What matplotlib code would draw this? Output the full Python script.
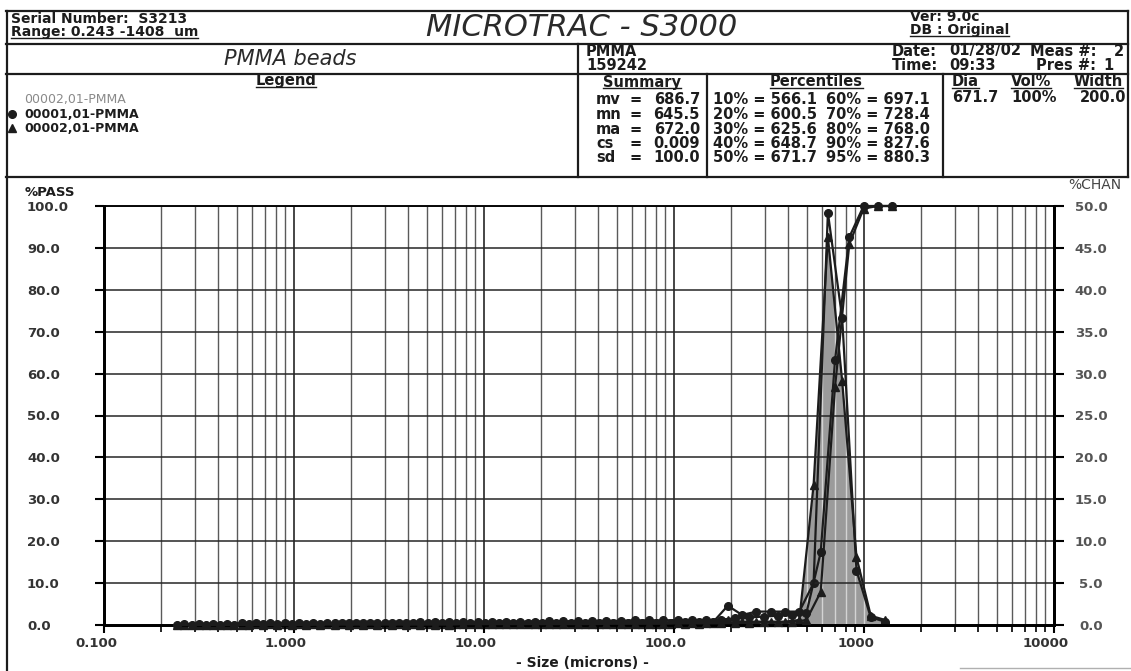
import numpy as np
import matplotlib
matplotlib.use("Agg")
import matplotlib.pyplot as plt
from matplotlib.transforms import ScaledTranslation
from matplotlib.ticker import FixedLocator, NullFormatter

W, H = 1131, 671
FONT = "DejaVu Sans"
INK = "#1c1c1c"

# channel edges in microns (4 channels per octave), smallest first
EDGES = [0.243, 0.289, 0.344, 0.409, 0.486, 0.578, 0.688, 0.818, 0.972,
         1.156, 1.375, 1.635, 1.945, 2.312, 2.750, 3.270, 3.889, 4.625,
         5.500, 6.541, 7.778, 9.250, 11.00, 13.08, 15.56, 18.50, 22.00,
         26.16, 31.11, 37.00, 44.00, 52.33, 62.23, 74.00, 88.00, 104.7,
         124.5, 148.0, 176.0, 209.3, 248.9, 296.0, 352.0, 418.6, 497.8,
         592.0, 704.0, 837.2, 995.6, 1184, 1408]

# %CHAN per channel (50 channels), smallest first
CHAN_01 = [0.1, 0.1, 0.1, 0.1, 0.2, 0.2, 0.2, 0.2, 0.2, 0.2,
           0.2, 0.2, 0.2, 0.2, 0.2, 0.2, 0.2, 0.2, 0.2, 0.2,
           0.2, 0.2, 0.2, 0.2, 0.2, 0.2, 0.2, 0.2, 0.2, 0.2,
           0.2, 0.2, 0.2, 0.2, 0.2, 0.3, 0.3, 0.4, 2.3, 1.2,
           1.6, 1.6, 1.6, 1.6, 5.0, 49.2, 36.6, 6.5, 0.9, 0.4]
CHAN_02 = [0.0, 0.0, 0.0, 0.0, 0.0, 0.1, 0.1, 0.1, 0.1, 0.1,
           0.1, 0.1, 0.1, 0.1, 0.1, 0.1, 0.1, 0.1, 0.1, 0.1,
           0.1, 0.1, 0.1, 0.1, 0.1, 0.1, 0.1, 0.1, 0.1, 0.1,
           0.1, 0.1, 0.1, 0.1, 0.1, 0.1, 0.1, 0.2, 0.6, 0.4,
           0.4, 0.4, 0.4, 0.6, 16.7, 46.3, 29.1, 8.1, 1.1, 0.6]

# %PASS at channel edges (51 edges), smallest first
PASS_01 = [0.0, 0.0, 0.1, 0.1, 0.1, 0.2, 0.2, 0.2, 0.3, 0.3,
           0.3, 0.4, 0.4, 0.4, 0.5, 0.5, 0.5, 0.6, 0.6, 0.6,
           0.7, 0.7, 0.7, 0.8, 0.8, 0.8, 0.9, 0.9, 0.9, 1.0,
           1.0, 1.0, 1.1, 1.1, 1.1, 1.2, 1.2, 1.2, 1.3, 1.6,
           1.8, 2.0, 2.2, 2.4, 2.9, 17.4, 63.2, 92.6, 100.0, 100.0,
           100.0]
PASS_02 = [0.0, 0.0, 0.0, 0.0, 0.0, 0.0, 0.0, 0.0, 0.0, 0.0,
           0.1, 0.1, 0.1, 0.1, 0.1, 0.1, 0.1, 0.1, 0.1, 0.1,
           0.2, 0.2, 0.2, 0.2, 0.2, 0.2, 0.2, 0.2, 0.2, 0.2,
           0.3, 0.3, 0.3, 0.3, 0.3, 0.4, 0.4, 0.4, 0.4, 0.5,
           0.5, 0.6, 0.6, 0.7, 1.2, 7.9, 56.8, 91.0, 99.4, 100.0,
           100.0]

SUMMARY = [("mv", "686.7"), ("mn", "645.5"), ("ma", "672.0"),
           ("cs", "0.009"), ("sd", "100.0")]
PERCENTILES = [("10% = 566.1", "60% = 697.1"), ("20% = 600.5", "70% = 728.4"),
               ("30% = 625.6", "80% = 768.0"), ("40% = 648.7", "90% = 827.6"),
               ("50% = 671.7", "95% = 880.3")]
PEAK_HEAD = ["Dia", "Vol%", "Width"]
PEAK_ROW = ["671.7", "100%", "200.0"]

X_TICKS = [0.1, 1, 10, 100, 1000, 10000]
X_LABELS = ["0.100", "1.000", "10.00", "100.0", "1000", "10000"]
PASS_TICKS = [0, 10, 20, 30, 40, 50, 60, 70, 80, 90, 100]
CHAN_TICKS = [0, 5, 10, 15, 20, 25, 30, 35, 40, 45, 50]


def txt(ax, x, y, s, size=10.5, weight="bold", **kw):
    kw.setdefault("color", INK)
    kw.setdefault("va", "center")
    return ax.text(x, y, s, fontsize=size, fontweight=weight, family=FONT, **kw)


def underline(ax, t, renderer, dy=7):
    bb = t.get_window_extent(renderer)
    y = H - (bb.y0 + bb.y1) / 2 + dy
    ax.plot([bb.x0, bb.x1], [y, y], color=INK, lw=1.0)


def draw_header(fig):
    hdr = fig.add_axes([0, 0, 1, 1], zorder=5)
    hdr.set_xlim(0, W)
    hdr.set_ylim(H, 0)
    hdr.axis("off")
    hdr.patch.set_alpha(0)
    rend = fig.canvas.get_renderer()

    # frame and dividers
    line = dict(color=INK, lw=1.6)
    hdr.plot([6, 1128], [11, 11], **line)
    hdr.plot([6, 1128], [44, 44], **line)
    hdr.plot([6, 1128], [74, 74], **line)
    hdr.plot([6, 1128], [177, 177], **line)
    hdr.plot([7, 7], [11, 671], **line)
    hdr.plot([1128, 1128], [11, 177], **line)
    hdr.plot([578, 578], [44, 177], **line)
    hdr.plot([707, 707], [74, 177], **line)
    hdr.plot([943, 943], [74, 177], **line)
    hdr.plot([960, 1131], [668, 668], color="#b0b0b0", lw=1.0)

    # top row
    txt(hdr, 11, 19, "Serial Number:  S3213", size=10)
    t = txt(hdr, 11, 32, "Range: 0.243 -1408  um", size=10)
    underline(hdr, t, rend, dy=6)
    txt(hdr, 582, 27, "MICROTRAC - S3000", size=22, weight="normal",
        style="italic", ha="center", color="#2a2a2a")
    txt(hdr, 910, 17, "Ver: 9.0c", size=10)
    t = txt(hdr, 910, 30, "DB : Original", size=10)
    underline(hdr, t, rend, dy=6)

    # second row
    txt(hdr, 290, 59, "PMMA beads", size=15, weight="normal", style="italic",
        ha="center", color="#2a2a2a")
    txt(hdr, 586, 51, "PMMA")
    txt(hdr, 586, 65, "159242")
    txt(hdr, 892, 51, "Date:")
    txt(hdr, 949, 51, "01/28/02")
    txt(hdr, 1030, 51, "Meas #:")
    txt(hdr, 1124, 51, "2", ha="right")
    txt(hdr, 892, 65, "Time:")
    txt(hdr, 949, 65, "09:33")
    txt(hdr, 1036, 65, "Pres #:")
    txt(hdr, 1114, 65, "1", ha="right")

    # legend
    t = txt(hdr, 286, 81, "Legend", ha="center")
    underline(hdr, t, rend, dy=6)
    txt(hdr, 24, 100, "00002,01-PMMA", size=9, weight="normal", color="#8a8a8a")
    hdr.plot([12], [114], "o", color=INK, ms=5.5)
    txt(hdr, 24, 114, "00001,01-PMMA", size=9)
    hdr.plot([12], [128], "^", color=INK, ms=5.5)
    txt(hdr, 24, 128, "00002,01-PMMA", size=9)

    # summary
    t = txt(hdr, 642, 82, "Summary", ha="center")
    underline(hdr, t, rend, dy=6)
    for i, (name, val) in enumerate(SUMMARY):
        y = 100 + i * 14.5
        txt(hdr, 596, y, name)
        txt(hdr, 636, y, "=", ha="center")
        txt(hdr, 700, y, val, ha="right")

    # percentiles
    t = txt(hdr, 816, 82, "Percentiles", ha="center")
    underline(hdr, t, rend, dy=6)
    for i, (left, right) in enumerate(PERCENTILES):
        y = 100 + i * 14.5
        txt(hdr, 713, y, left)
        txt(hdr, 826, y, right)

    # peak table
    for xl, head in zip([952, 1011, 1074], PEAK_HEAD):
        t = txt(hdr, xl, 82, head)
        underline(hdr, t, rend, dy=6)
    for xl, val in zip([952, 1011, 1080], PEAK_ROW):
        txt(hdr, xl, 97, val)

    # plot captions
    txt(hdr, 25, 192, "%PASS", size=9.5)
    txt(hdr, 1068, 185, "%CHAN", size=10, weight="normal", color="#444444")
    txt(hdr, 582, 663, "- Size (microns) -", size=10, ha="center")
    return hdr


def draw_plot(fig):
    ax = fig.add_axes([104 / W, (H - 625) / H, 950 / W, 419 / H])
    ax.set_xscale("log")
    ax.set_xlim(0.1, 10000)
    ax.set_ylim(0, 100)
    ax2 = ax.twinx()
    ax2.set_ylim(0, 50)
    ax.set_zorder(ax2.get_zorder() + 1)
    ax.patch.set_visible(False)

    edges = np.array(EDGES)
    centers = np.sqrt(edges[:-1] * edges[1:])

    # grid
    minors = [m * 10.0 ** d for d in range(-1, 4) for m in range(2, 10)]
    for x in minors:
        ax2.axvline(x, color="#5a5a5a", lw=1.0, zorder=0)
    for x in X_TICKS:
        ax2.axvline(x, color="#262626", lw=1.2, zorder=0)
    for y in PASS_TICKS:
        ax.axhline(y, color="#262626", lw=1.1, zorder=0)

    # shaded histogram for 00002
    fill = ax2.fill_between(centers, 0, CHAN_02, color="#9b9b9b", lw=0, zorder=1)
    inside = [x for x in minors + X_TICKS if 400 < x < 1300]
    lc = ax2.vlines(inside, 0, 50, colors="#d4d4d4", lw=1.0, zorder=1.5)
    lc.set_clip_path(fill.get_paths()[0], ax2.transData)

    style = dict(color=INK, lw=1.6, ms=5.5, clip_on=False)
    ax2.plot(centers, CHAN_02, marker="^", zorder=3, **style)
    ax2.plot(centers, CHAN_01, marker="o", zorder=3, **style)
    ax.plot(edges, PASS_02, marker="^", zorder=3, **style)
    ax.plot(edges, PASS_01, marker="o", zorder=3, **style)

    # spines and ticks
    for a in (ax, ax2):
        for side in ["left", "right", "bottom"]:
            a.spines[side].set_linewidth(2.0)
        a.spines["top"].set_linewidth(1.1)

    ax.xaxis.set_major_locator(FixedLocator(X_TICKS))
    ax.xaxis.set_minor_locator(FixedLocator(minors))
    ax.xaxis.set_minor_formatter(NullFormatter())
    ax.set_xticklabels(X_LABELS)
    ax.tick_params(axis="x", which="major", direction="out", length=6,
                   width=1.5, pad=2.6, labelsize=9.5)
    ax.tick_params(axis="x", which="minor", direction="out", length=5,
                   width=1.2)
    shift = ScaledTranslation(-8 / 100, 0, fig.dpi_scale_trans)
    for lab in ax.get_xticklabels():
        lab.set_transform(lab.get_transform() + shift)

    ax.set_yticks(PASS_TICKS)
    ax.set_yticklabels([f"{v:.1f}" for v in PASS_TICKS])
    ax.tick_params(axis="y", direction="out", length=6.5, width=1.5, pad=48.9,
                   labelsize=9.5)
    for lab in ax.get_yticklabels():
        lab.set_horizontalalignment("left")
    ax2.set_yticks(CHAN_TICKS)
    ax2.set_yticklabels([f"{v:.1f}" for v in CHAN_TICKS])
    ax2.tick_params(axis="y", direction="out", length=7.2, width=1.5, pad=19.4,
                    labelsize=9.5, labelcolor="#555555")
    for lab in ax2.get_yticklabels():
        lab.set_horizontalalignment("center")
    ax2.tick_params(axis="x", which="both", length=0)

    for lab in ax.get_xticklabels() + ax.get_yticklabels() + ax2.get_yticklabels():
        lab.set_family(FONT)
        lab.set_fontweight("bold")
    for lab in ax.get_xticklabels() + ax.get_yticklabels():
        lab.set_color("#333333")
    return ax, ax2


def main():
    fig = plt.figure(figsize=(W / 100, H / 100), dpi=100)
    fig.patch.set_facecolor("white")
    draw_plot(fig)
    draw_header(fig)
    fig.savefig("out.png", dpi=100)
    plt.close(fig)


if __name__ == "__main__":
    main()
